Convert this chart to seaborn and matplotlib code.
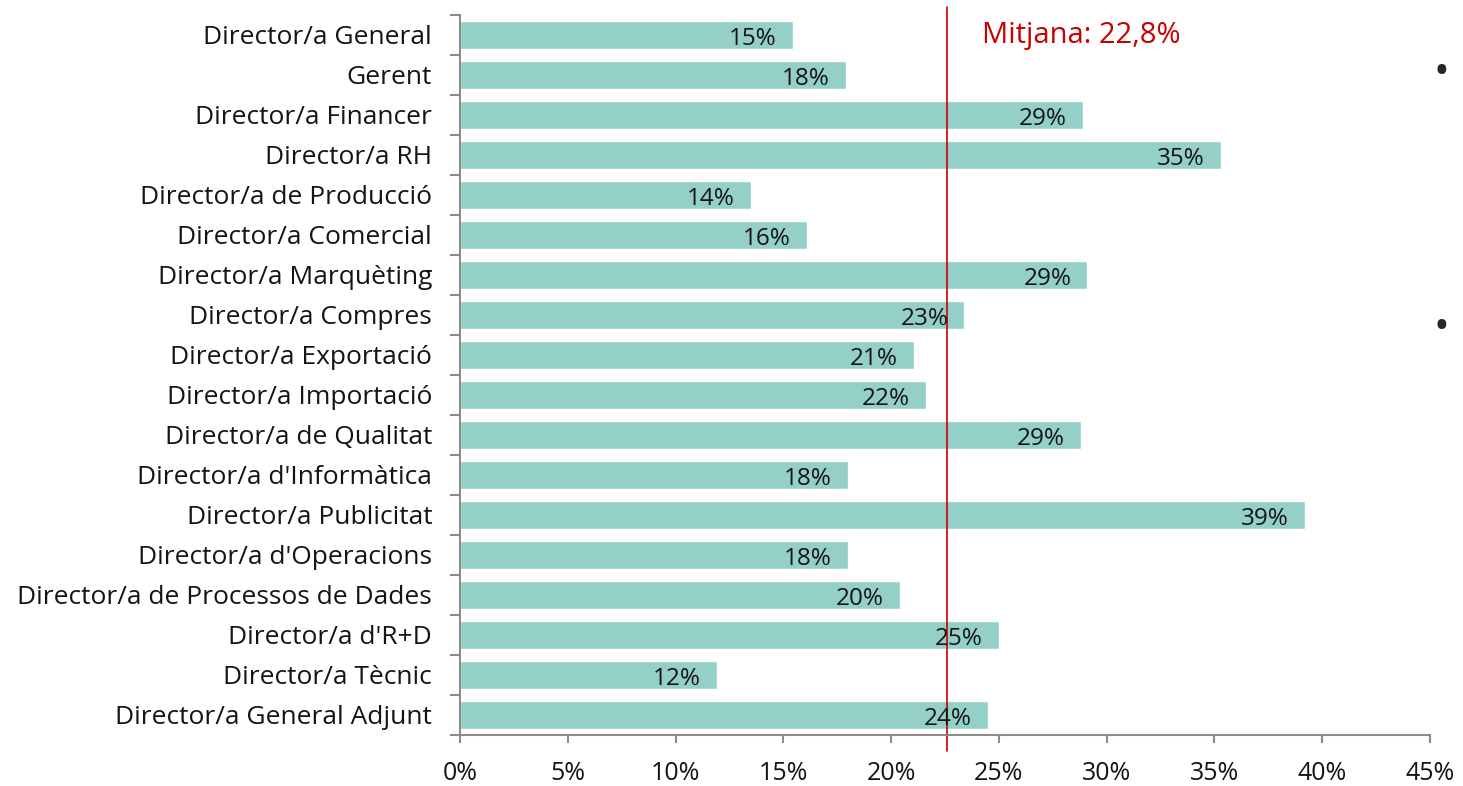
import numpy as np
import pandas as pd
import matplotlib.pyplot as plt
import seaborn as sns

categories = [
    'Director/a General', 'Gerent', 'Director/a Financer', 'Director/a RH',
    'Director/a de Producció', 'Director/a Comercial', 'Director/a Marquèting',
    'Director/a Compres', 'Director/a Exportació', 'Director/a Importació',
    'Director/a de Qualitat', "Director/a d'Informàtica", 'Director/a Publicitat',
    "Director/a d'Operacions", 'Director/a de Processos de Dades', "Director/a d'R+D",
    'Director/a Tècnic', 'Director/a General Adjunt',
]
values = [15.45, 17.9, 28.9, 35.3, 13.5, 16.1, 29.1, 23.4, 21.05,
          21.6, 28.8, 18.0, 39.2, 18.0, 20.4, 25.0, 11.9, 24.5]
mean_value = 22.6
mean_label = 'Mitjana: 22,8%'
x_ticks = [0, 5, 10, 15, 20, 25, 30, 35, 40, 45]

df = pd.DataFrame({'cat': categories, 'val': values})

sns.set_style('white')
plt.rcParams['font.family'] = ['Open Sans', 'DejaVu Sans']

bar_color = '#95D0C8'
axis_color = '#8C8C8C'
text_color = '#141414'
red = '#C80000'

fig = plt.figure(figsize=(14.63, 7.86), dpi=100)
ax = fig.add_axes([460 / 1463, 1 - 735 / 786, 970 / 1463, 720 / 786])

sns.barplot(data=df, x='val', y='cat', orient='h', color=bar_color,
            saturation=1, width=0.7, ax=ax)

ax.set_xlim(0, 45)
ax.set_ylim(len(categories) - 0.5, -0.5)
ax.set_xlabel('')
ax.set_ylabel('')

for s in ['top', 'right']:
    ax.spines[s].set_visible(False)
for s in ['left', 'bottom']:
    ax.spines[s].set_color(axis_color)
    ax.spines[s].set_linewidth(1.5)

ax.set_xticks(x_ticks)
ax.set_xticklabels([f'{t}%' for t in x_ticks])
ax.tick_params(axis='x', which='major', bottom=True, direction='out', length=6,
               width=1.5, color=axis_color, labelsize=18, labelcolor=text_color,
               pad=13)

ax.set_yticks(np.arange(len(categories)))
ax.set_yticklabels(categories)
ax.set_yticks(np.arange(len(categories) + 1) - 0.5, minor=True)
ax.tick_params(axis='y', which='major', left=True, length=0, labelsize=19,
               labelcolor=text_color, pad=20)
ax.tick_params(axis='y', which='minor', left=True, direction='out', length=7,
               width=1.5, color=axis_color)

for i, v in enumerate(values):
    ax.annotate(f'{v:.0f}%', xy=(v, i), xytext=(-16, -4),
                textcoords='offset pixels', ha='right', va='center',
                fontsize=17.5, color=text_color)

ax.axvline(mean_value, ymin=-0.022, ymax=1.011, color=red, linewidth=1.2,
           clip_on=False)
ax.text(24.2, 0, mean_label, color=red, fontsize=21, va='center', ha='left')

fig.text(1441 / 1463, 1 - 73 / 786, '•', fontsize=30, color='#262626',
         ha='center', va='center')
fig.text(1441 / 1463, 1 - 328 / 786, '•', fontsize=30, color='#262626',
         ha='center', va='center')

plt.savefig('out.png', dpi=100)
